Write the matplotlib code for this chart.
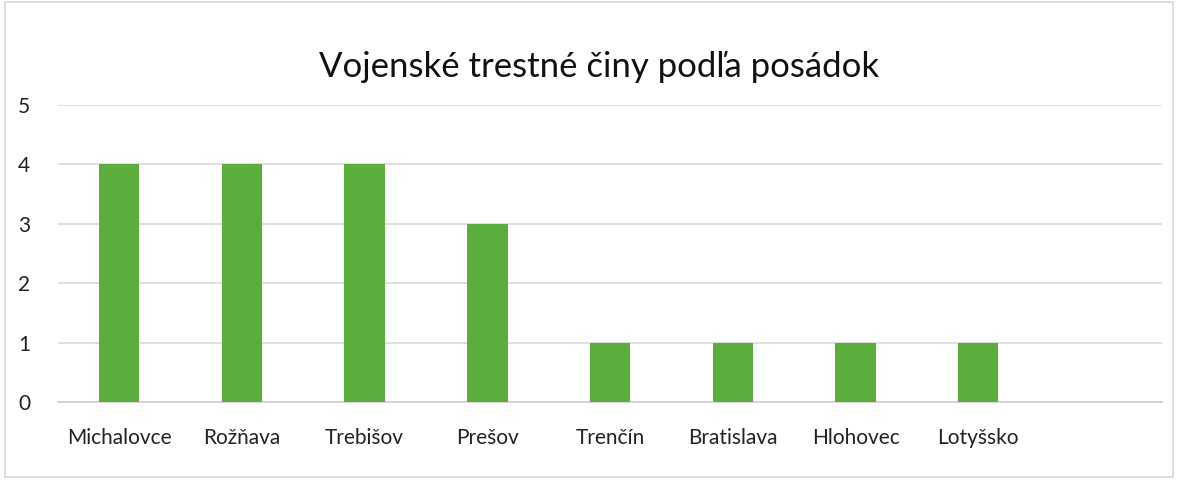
import matplotlib.pyplot as plt
from matplotlib.patches import Rectangle

# Crime counts per garrison
categories = ['Michalovce', 'Rožňava', 'Trebišov', 'Prešov', 'Trenčín',
              'Bratislava', 'Hlohovec', 'Lotyšsko']
counts = [4, 4, 4, 3, 1, 1, 1, 1]
yticks = [0, 1, 2, 3, 4, 5]

plt.rcParams['font.family'] = ['Lato', 'DejaVu Sans']

fig = plt.figure(figsize=(11.8, 4.82), dpi=100)
ax = fig.add_axes([0.049, 0.166, 0.936, 0.616])

x = list(range(len(categories)))
ax.bar(x, counts, width=0.33, color='#5BAE3C', zorder=3)

ax.set_xlim(-0.5, len(categories) + 0.5)
ax.set_ylim(0, 5)
ax.set_yticks(yticks)
ax.set_xticks(x)
ax.set_xticklabels(categories)
ax.tick_params(axis='x', length=0, pad=19, labelsize=15, colors='#222222')
ax.tick_params(axis='y', length=0, pad=20, labelsize=15, colors='#222222')

ax.grid(axis='y', color='#d9d9d9', linewidth=1.2, zorder=0)
for s in ['top', 'right', 'left']:
    ax.spines[s].set_visible(False)
ax.spines['bottom'].set_color('#d0d0d0')
ax.spines['bottom'].set_linewidth(1.2)

fig.text(0.508, 0.862, 'Vojenské trestné činy podľa posádok', ha='center',
         va='center', fontsize=25, color='#111111')

# outer chart border
fig.patches.append(Rectangle((0.004, 0.01), 0.99, 0.985, transform=fig.transFigure,
                             fill=False, edgecolor='#d8d8d8', linewidth=1.2))

fig.savefig('out.png', dpi=100)
